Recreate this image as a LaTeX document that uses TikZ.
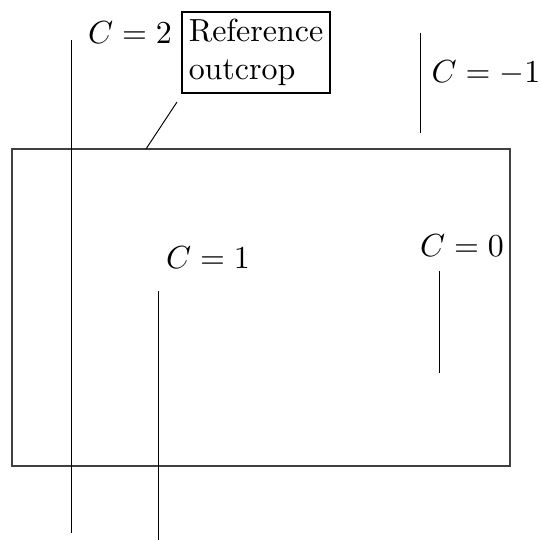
\documentclass[tikz,border=0pt]{standalone}
\usepackage{tikz}
\usetikzlibrary{positioning}

\begin{document}
\begin{tikzpicture}[
    x=0.011cm, y=-0.011cm,
    label/.style={inner sep=0pt, font=\normalsize},
    refbox/.style={draw, line width=0.6pt, minimum width=148*0.011cm,
                   minimum height=81*0.011cm, align=left, inner sep=2pt},
    region/.style={draw=black!75, line width=0.4pt},
    trace/.style={draw, line width=0.3pt},
  ]
  \useasboundingbox (0,0) rectangle (541,541);
  % map area
  \draw[region] (12,149) rectangle (510,466);

  % labels
  \node[refbox] (ref) at (256,52.5) {Reference\\outcrop};
  \node[label] (c2) at (130,33) {$C=2$};
  \node[label] (cm1) at (486,73) {$C=-1$};
  \node[label] (c1) at (208,258) {$C=1$};
  \node[label] (c0) at (462,246) {$C=0$};

  % contour traces
  \coordinate (a1) at (71,40);   \coordinate (a2) at (71,533);
  \coordinate (b1) at (158,291); \coordinate (b2) at (158,540);
  \coordinate (d1) at (439,271); \coordinate (d2) at (439,373);
  \coordinate (e1) at (420,33);  \coordinate (e2) at (420,133);
  \coordinate (p1) at (177,102); \coordinate (p2) at (146,149);
  \draw[trace] (a1) -- (a2);
  \draw[trace] (b1) -- (b2);
  \draw[trace] (d1) -- (d2);
  \draw[trace] (e1) -- (e2);
  \draw[trace] (p1) -- (p2);
\end{tikzpicture}
\end{document}
